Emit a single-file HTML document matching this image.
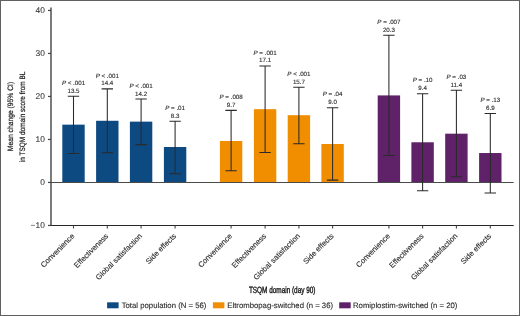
<!DOCTYPE html>
<html><head><meta charset="utf-8"><style>
html,body{margin:0;padding:0;background:#fff;}
body{width:520px;height:316px;overflow:hidden;}
svg{display:block;}
text{font-family:"Liberation Sans",sans-serif;fill:#333;text-rendering:geometricPrecision;}
.pv{font-size:6.2px;text-anchor:middle;fill:#2a2a2a;stroke:#2a2a2a;stroke-width:0.12px;}
.yt{font-size:8.4px;text-anchor:end;fill:#333;stroke:#333;stroke-width:0.08px;}
.xt{font-size:7.6px;text-anchor:end;fill:#2a2a2a;stroke:#2a2a2a;stroke-width:0.12px;}
.yl{font-size:7.8px;text-anchor:middle;fill:#222;stroke:#222;stroke-width:0.22px;}
.xl{font-size:9px;text-anchor:middle;fill:#1a1a1a;stroke:#1a1a1a;stroke-width:0.4px;}
.lg{font-size:7.75px;fill:#2a2a2a;stroke:#2a2a2a;stroke-width:0.12px;}
</style></head><body>
<svg width="520" height="316" viewBox="0 0 520 316">
<rect x="0" y="0" width="520" height="316" fill="#fff"/>
<rect x="62.30" y="124.65" width="22.4" height="57.80" fill="#0e4a82"/>
<rect x="96.10" y="120.78" width="22.4" height="61.67" fill="#0e4a82"/>
<rect x="129.90" y="121.64" width="22.4" height="60.81" fill="#0e4a82"/>
<rect x="163.90" y="147.01" width="22.4" height="35.44" fill="#0e4a82"/>
<rect x="219.90" y="140.99" width="22.4" height="41.46" fill="#f18e00"/>
<rect x="253.90" y="109.17" width="22.4" height="73.28" fill="#f18e00"/>
<rect x="287.70" y="115.19" width="22.4" height="67.26" fill="#f18e00"/>
<rect x="321.40" y="144.00" width="22.4" height="38.45" fill="#f18e00"/>
<rect x="377.70" y="95.41" width="22.4" height="87.04" fill="#5f2168"/>
<rect x="411.40" y="142.28" width="22.4" height="40.17" fill="#5f2168"/>
<rect x="445.20" y="133.68" width="22.4" height="48.77" fill="#5f2168"/>
<rect x="479.10" y="153.03" width="22.4" height="29.42" fill="#5f2168"/>
<line x1="51" y1="182.5" x2="513.7" y2="182.5" stroke="#4a4a4a" stroke-width="1"/>
<path d="M73.50 96.25V153.50M67.80 96.25H79.20M67.80 153.50H79.20" stroke="#2a2a2a" stroke-width="1.05" fill="none"/>
<path d="M107.30 88.85V152.80M101.60 88.85H113.00M101.60 152.80H113.00" stroke="#2a2a2a" stroke-width="1.05" fill="none"/>
<path d="M141.10 99.05V144.60M135.40 99.05H146.80M135.40 144.60H146.80" stroke="#2a2a2a" stroke-width="1.05" fill="none"/>
<path d="M175.10 121.15V173.70M169.40 121.15H180.80M169.40 173.70H180.80" stroke="#2a2a2a" stroke-width="1.05" fill="none"/>
<path d="M231.10 110.35V170.80M225.40 110.35H236.80M225.40 170.80H236.80" stroke="#2a2a2a" stroke-width="1.05" fill="none"/>
<path d="M265.10 65.95V152.40M259.40 65.95H270.80M259.40 152.40H270.80" stroke="#2a2a2a" stroke-width="1.05" fill="none"/>
<path d="M298.90 87.15V143.70M293.20 87.15H304.60M293.20 143.70H304.60" stroke="#2a2a2a" stroke-width="1.05" fill="none"/>
<path d="M332.60 107.65V180.10M326.90 107.65H338.30M326.90 180.10H338.30" stroke="#2a2a2a" stroke-width="1.05" fill="none"/>
<path d="M388.90 35.25V155.50M383.20 35.25H394.60M383.20 155.50H394.60" stroke="#2a2a2a" stroke-width="1.05" fill="none"/>
<path d="M422.60 93.65V190.70M416.90 93.65H428.30M416.90 190.70H428.30" stroke="#2a2a2a" stroke-width="1.05" fill="none"/>
<path d="M456.40 90.15V176.80M450.70 90.15H462.10M450.70 176.80H462.10" stroke="#2a2a2a" stroke-width="1.05" fill="none"/>
<path d="M490.30 113.45V193.00M484.60 113.45H496.00M484.60 193.00H496.00" stroke="#2a2a2a" stroke-width="1.05" fill="none"/>
<path d="M51 7.6V225.5" stroke="#444" stroke-width="1.4" fill="none"/><path d="M50.3 225.5H513.7" stroke="#262626" stroke-width="1.1" fill="none"/>
<line x1="48" y1="10.45" x2="51" y2="10.45" stroke="#444" stroke-width="1.2"/>
<line x1="48" y1="53.45" x2="51" y2="53.45" stroke="#444" stroke-width="1.2"/>
<line x1="48" y1="96.45" x2="51" y2="96.45" stroke="#444" stroke-width="1.2"/>
<line x1="48" y1="139.45" x2="51" y2="139.45" stroke="#444" stroke-width="1.2"/>
<line x1="48" y1="182.45" x2="51" y2="182.45" stroke="#444" stroke-width="1.2"/>
<line x1="48" y1="225.45" x2="51" y2="225.45" stroke="#444" stroke-width="1.2"/>
<line x1="73.50" y1="225.5" x2="73.50" y2="228.5" stroke="#444" stroke-width="1.1"/>
<line x1="107.30" y1="225.5" x2="107.30" y2="228.5" stroke="#444" stroke-width="1.1"/>
<line x1="141.10" y1="225.5" x2="141.10" y2="228.5" stroke="#444" stroke-width="1.1"/>
<line x1="175.10" y1="225.5" x2="175.10" y2="228.5" stroke="#444" stroke-width="1.1"/>
<line x1="231.10" y1="225.5" x2="231.10" y2="228.5" stroke="#444" stroke-width="1.1"/>
<line x1="265.10" y1="225.5" x2="265.10" y2="228.5" stroke="#444" stroke-width="1.1"/>
<line x1="298.90" y1="225.5" x2="298.90" y2="228.5" stroke="#444" stroke-width="1.1"/>
<line x1="332.60" y1="225.5" x2="332.60" y2="228.5" stroke="#444" stroke-width="1.1"/>
<line x1="388.90" y1="225.5" x2="388.90" y2="228.5" stroke="#444" stroke-width="1.1"/>
<line x1="422.60" y1="225.5" x2="422.60" y2="228.5" stroke="#444" stroke-width="1.1"/>
<line x1="456.40" y1="225.5" x2="456.40" y2="228.5" stroke="#444" stroke-width="1.1"/>
<line x1="490.30" y1="225.5" x2="490.30" y2="228.5" stroke="#444" stroke-width="1.1"/>
<rect x="107.1" y="302.3" width="11.5" height="6.0" fill="#0e4a82"/>
<rect x="212.9" y="302.3" width="11.5" height="6.0" fill="#f18e00"/>
<rect x="339.2" y="302.3" width="11.5" height="6.0" fill="#5f2168"/>
<g opacity="0.999">
<text x="73.50" y="85.05" class="pv"><tspan font-style="italic">P</tspan> &lt; .001</text>
<text x="73.50" y="92.75" class="pv">13.5</text>
<text x="107.30" y="77.65" class="pv"><tspan font-style="italic">P</tspan> &lt; .001</text>
<text x="107.30" y="85.35" class="pv">14.4</text>
<text x="141.10" y="87.85" class="pv"><tspan font-style="italic">P</tspan> &lt; .001</text>
<text x="141.10" y="95.55" class="pv">14.2</text>
<text x="175.10" y="109.95" class="pv"><tspan font-style="italic">P</tspan> = .01</text>
<text x="175.10" y="117.65" class="pv">8.3</text>
<text x="231.10" y="99.15" class="pv"><tspan font-style="italic">P</tspan> = .008</text>
<text x="231.10" y="106.85" class="pv">9.7</text>
<text x="265.10" y="54.75" class="pv"><tspan font-style="italic">P</tspan> = .001</text>
<text x="265.10" y="62.45" class="pv">17.1</text>
<text x="298.90" y="75.95" class="pv"><tspan font-style="italic">P</tspan> &lt; .001</text>
<text x="298.90" y="83.65" class="pv">15.7</text>
<text x="332.60" y="96.45" class="pv"><tspan font-style="italic">P</tspan> = .04</text>
<text x="332.60" y="104.15" class="pv">9.0</text>
<text x="388.90" y="24.05" class="pv"><tspan font-style="italic">P</tspan> = .007</text>
<text x="388.90" y="31.75" class="pv">20.3</text>
<text x="422.60" y="82.45" class="pv"><tspan font-style="italic">P</tspan> = .10</text>
<text x="422.60" y="90.15" class="pv">9.4</text>
<text x="456.40" y="78.95" class="pv"><tspan font-style="italic">P</tspan> = .03</text>
<text x="456.40" y="86.65" class="pv">11.4</text>
<text x="490.30" y="102.25" class="pv"><tspan font-style="italic">P</tspan> = .13</text>
<text x="490.30" y="109.95" class="pv">6.9</text>
<text x="44.8" y="13.45" class="yt">40</text>
<text x="44.8" y="56.45" class="yt">30</text>
<text x="44.8" y="99.45" class="yt">20</text>
<text x="44.8" y="142.45" class="yt">10</text>
<text x="44.8" y="185.45" class="yt">0</text>
<text x="44.8" y="228.45" class="yt">−10</text>
<text x="75.00" y="236.60" class="xt" transform="rotate(-45 75.00 236.60)">Convenience</text>
<text x="108.80" y="236.60" class="xt" transform="rotate(-45 108.80 236.60)">Effectiveness</text>
<text x="142.60" y="236.60" class="xt" transform="rotate(-45 142.60 236.60)">Global satisfaction</text>
<text x="176.60" y="236.60" class="xt" transform="rotate(-45 176.60 236.60)">Side effects</text>
<text x="232.60" y="236.60" class="xt" transform="rotate(-45 232.60 236.60)">Convenience</text>
<text x="266.60" y="236.60" class="xt" transform="rotate(-45 266.60 236.60)">Effectiveness</text>
<text x="300.40" y="236.60" class="xt" transform="rotate(-45 300.40 236.60)">Global satisfaction</text>
<text x="334.10" y="236.60" class="xt" transform="rotate(-45 334.10 236.60)">Side effects</text>
<text x="390.40" y="236.60" class="xt" transform="rotate(-45 390.40 236.60)">Convenience</text>
<text x="424.10" y="236.60" class="xt" transform="rotate(-45 424.10 236.60)">Effectiveness</text>
<text x="457.90" y="236.60" class="xt" transform="rotate(-45 457.90 236.60)">Global satisfaction</text>
<text x="491.80" y="236.60" class="xt" transform="rotate(-45 491.80 236.60)">Side effects</text>
<g transform="translate(13.4 116.5) rotate(-90)"><text x="0" y="0" class="yl" transform="scale(0.866 1)">Mean change (95% CI)</text></g>
<g transform="translate(24.9 116.9) rotate(-90)"><text x="0" y="0" class="yl" transform="scale(0.83 1)">in TSQM domain score from BL</text></g>
<g transform="translate(282.2 292.6)"><text x="0" y="0" class="xl" transform="scale(0.712 1)">TSQM domain (day 90)</text></g>
<text x="121.7" y="307.8" class="lg">Total population (N = 56)</text>
<text x="227.3" y="307.8" class="lg">Eltrombopag-switched (n = 36)</text>
<text x="353.0" y="307.8" class="lg">Romiplostim-switched (n = 20)</text>
</g>
<rect x="0.5" y="0.5" width="519" height="315" fill="none" stroke="#606060" stroke-width="1"/>
</svg>
</body></html>
